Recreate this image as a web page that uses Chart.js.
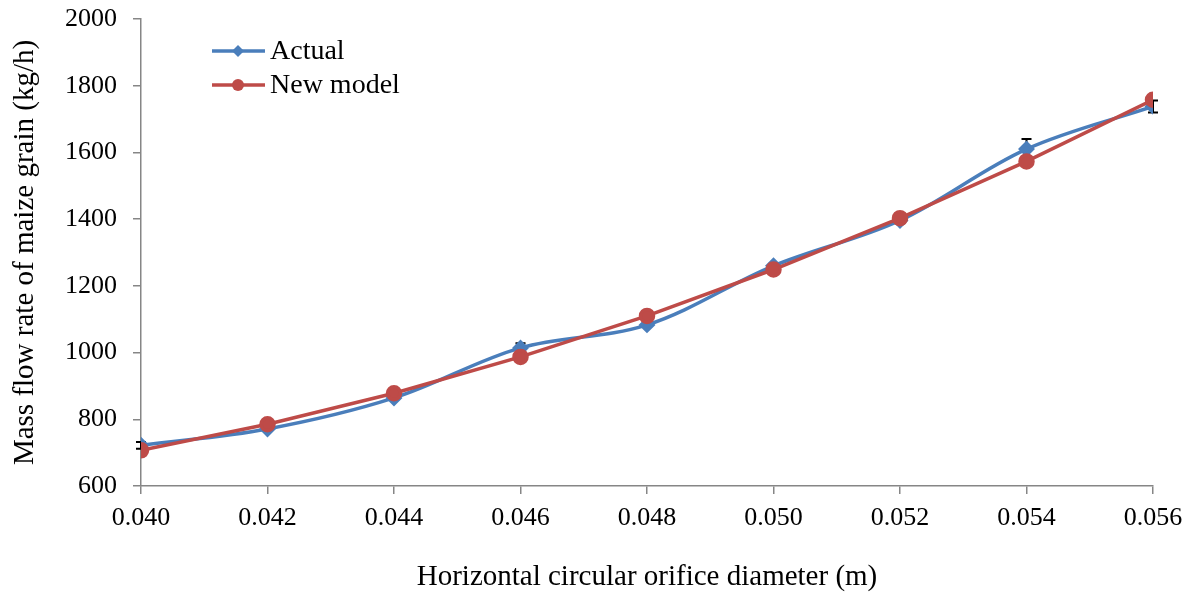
<!DOCTYPE html>
<html>
<head>
<meta charset="utf-8">
<script src="https://cdn.jsdelivr.net/npm/chart.js@4/dist/chart.umd.min.js"></script>
<style>
  html, body { margin: 0; padding: 0; background: #fff; }
  #wrap { width: 1186px; height: 595px; }
</style>
</head>
<body>
<div id="wrap"><canvas id="flowChart"></canvas></div>
<script>
// orifice diameters (m)
const diameters = [0.040, 0.042, 0.044, 0.046, 0.048, 0.050, 0.052, 0.054, 0.056];
// measured mass flow rate (kg/h) and its standard deviation
const actualFlow = [722, 771, 864, 1014, 1083, 1260, 1396, 1610, 1738];
const actualErr = [10, 6, 6, 14, 6, 6, 8, 30, 18];
// predicted by the new model
const modelFlow = [707, 785, 878, 987, 1110, 1249, 1403, 1573, 1758];
const xTicks = [0.040, 0.042, 0.044, 0.046, 0.048, 0.050, 0.052, 0.054, 0.056];
const yTicks = [600, 800, 1000, 1200, 1400, 1600, 1800, 2000];

const serif = "'Liberation Serif', 'Times New Roman', serif";
const blue = '#4a7ebb';
const red = '#be4b48';
const axisGray = '#868686';

// vertical error bars on the measured series, under the markers
const errorBars = {
    id: 'errorBars',
    beforeDatasetsDraw(chart) {
        const ctx = chart.ctx;
        const xs = chart.scales.x, ys = chart.scales.y;
        ctx.save();
        ctx.strokeStyle = '#000';
        ctx.lineWidth = 2;
        diameters.forEach(function (d, i) {
            const px = xs.getPixelForValue(d);
            const top = ys.getPixelForValue(actualFlow[i] + actualErr[i]);
            const bot = ys.getPixelForValue(actualFlow[i] - actualErr[i]);
            ctx.beginPath();
            ctx.moveTo(px, top); ctx.lineTo(px, bot);
            ctx.moveTo(px - 5, top); ctx.lineTo(px + 5, top);
            ctx.moveTo(px - 5, bot); ctx.lineTo(px + 5, bot);
            ctx.stroke();
        });
        ctx.restore();
    }
};

// legend drawn inside the plot, top left
const innerLegend = {
    id: 'innerLegend',
    afterDraw(chart) {
        const ctx = chart.ctx;
        const items = [
            { text: 'Actual', color: blue, style: 'diamond', y: 51 },
            { text: 'New model', color: red, style: 'circle', y: 85 }
        ];
        ctx.save();
        items.forEach(function (it) {
            ctx.strokeStyle = it.color;
            ctx.fillStyle = it.color;
            ctx.lineWidth = 3.5;
            ctx.beginPath();
            ctx.moveTo(212, it.y); ctx.lineTo(265, it.y);
            ctx.stroke();
            ctx.beginPath();
            if (it.style === 'diamond') {
                ctx.moveTo(238, it.y - 6); ctx.lineTo(244, it.y);
                ctx.lineTo(238, it.y + 6); ctx.lineTo(232, it.y);
                ctx.closePath();
            } else {
                ctx.arc(238, it.y, 6, 0, Math.PI * 2);
            }
            ctx.fill();
            ctx.fillStyle = '#000';
            ctx.font = '28px ' + serif;
            ctx.textBaseline = 'middle';
            ctx.fillText(it.text, 270, it.y + 1);
        });
        ctx.restore();
    }
};

const ctx = document.getElementById('flowChart').getContext('2d');
new Chart(ctx, {
    type: 'line',
    data: {
        datasets: [
            {
                label: 'Actual',
                data: diameters.map((d, i) => ({ x: d, y: actualFlow[i] })),
                borderColor: blue,
                backgroundColor: blue,
                borderWidth: 3.5,
                pointStyle: 'rectRot',
                pointRadius: 6,
                tension: 0.35,
                order: 2
            },
            {
                label: 'New model',
                data: diameters.map((d, i) => ({ x: d, y: modelFlow[i] })),
                borderColor: red,
                backgroundColor: red,
                borderWidth: 3.5,
                pointStyle: 'circle',
                pointRadius: 6.5,
                tension: 0,
                order: 1
            }
        ]
    },
    options: {
        responsive: true,
        maintainAspectRatio: false,
        animation: false,
        layout: { padding: { left: 4, right: 2, top: 19, bottom: 0 } },
        plugins: {
            legend: { display: false },
            tooltip: { enabled: false }
        },
        scales: {
            x: {
                type: 'linear',
                min: 0.040,
                max: 0.056,
                afterBuildTicks: axis => { axis.ticks = xTicks.map(v => ({ value: v })); },
                afterFit: axis => { axis.height = 109; axis.paddingRight = 33; },
                ticks: {
                    callback: v => v.toFixed(3),
                    color: '#000',
                    font: { family: serif, size: 26 },
                    padding: 9,
                    maxRotation: 0
                },
                grid: { drawOnChartArea: false, color: axisGray, tickLength: 8, lineWidth: 1.5 },
                border: { color: axisGray, width: 1.5 },
                title: {
                    display: true,
                    text: 'Horizontal circular orifice diameter (m)',
                    color: '#000',
                    font: { family: serif, size: 29 },
                    padding: { top: 0, bottom: 0 }
                }
            },
            y: {
                min: 600,
                max: 2000,
                afterBuildTicks: axis => { axis.ticks = yTicks.map(v => ({ value: v })); },
                afterFit: axis => { axis.width = 137; axis.paddingTop = 0; },
                ticks: {
                    callback: v => String(v),
                    color: '#000',
                    font: { family: serif, size: 26 },
                    padding: 16
                },
                grid: { drawOnChartArea: false, color: axisGray, tickLength: 8, lineWidth: 1.5 },
                border: { color: axisGray, width: 1.5 },
                title: {
                    display: true,
                    text: 'Mass flow rate of maize grain (kg/h)',
                    color: '#000',
                    font: { family: serif, size: 29 },
                    padding: { top: 4, bottom: 0 }
                }
            }
        }
    },
    plugins: [errorBars, innerLegend]
});
</script>
</body>
</html>
